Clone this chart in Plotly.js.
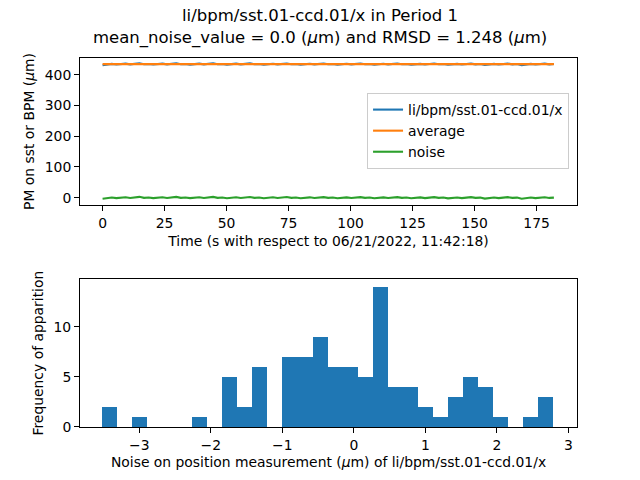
<!DOCTYPE html>
<html>
<head>
<meta charset="utf-8">
<script src="https://cdn.plot.ly/plotly-3.0.1.min.js"></script>
<style>html,body{margin:0;padding:0;background:#fff}#chart{width:640px;height:480px}</style>
</head>
<body>
<div id="chart"></div>
<script>
// Noise values (µm), in time order
var noise = [-3.42,-0.42,0.66,-1.35,-0.02,1.60,-0.77,0.34,2.78,-0.44,
  0.60,-1.40,-0.06,1.55,-0.80,0.32,2.70,-0.46,0.55,-1.48,
  -0.10,1.50,-0.82,0.31,2.62,-0.49,0.50,-1.55,-0.14,1.42,
  -0.85,0.29,2.45,-0.51,0.47,-1.65,-0.17,1.35,-0.88,0.28,
  2.05,-0.54,0.46,-1.68,-0.20,1.20,-0.90,0.24,1.92,-0.56,
  0.44,-1.70,-0.24,1.05,-0.95,0.20,1.87,-0.59,0.43,-1.75,
  -0.27,0.95,-0.98,0.16,1.82,-0.61,0.41,-1.80,-0.31,0.88,
  -1.22,0.11,1.76,-0.64,0.40,-2.15,-0.35,0.82,-1.25,0.07,
  1.72,-0.67,0.38,-3.00,-0.38,0.76,-1.28,0.04,1.68,-0.70,
  0.37,-3.38,-0.40,0.70,-1.30,0.01,1.64,-0.74,0.35];
var timeStart = 0;        // s
var timeStep = 1.857;     // s between samples
var timeEnd = 182;        // s
var averageValue = 434.6; // µm
var histStart = -3.525, histEnd = 2.80, histBinSize = 0.2105;
var topXTicks = [0,25,50,75,100,125,150,175];
var botXTicks = [-3,-2,-1,0,1,2,3];
var botYTicks = [0,5,10];
var topYTicks = [0,100,200,300,400];
var titleLines = ['li/bpm/sst.01-ccd.01/x in Period 1',
  'mean_noise_value = 0.0 (<i>μ</i>m) and RMSD = 1.248 (<i>μ</i>m)'];

var bpm = noise.map(function(n){ return averageValue + n; });

var font = {family:'DejaVu Sans, sans-serif', size:13.9, color:'#000'};
var titleFont = {family:'DejaVu Sans, sans-serif', size:16.5, color:'#000'};
var axisCommon = {showgrid:false, zeroline:false, showline:true, mirror:true,
  linecolor:'#000', linewidth:1, ticks:'outside', ticklen:5, tickwidth:1, tickcolor:'#000',
  tickfont:font, automargin:false};

var traces = [
  {type:'scatter', mode:'lines', name:'li/bpm/sst.01-ccd.01/x', x0:timeStart, dx:timeStep, y:bpm,
   line:{color:'#1f77b4', width:2.1}, xaxis:'x', yaxis:'y'},
  {type:'scatter', mode:'lines', name:'average', x:[timeStart,timeEnd], y:[averageValue,averageValue],
   line:{color:'#ff7f0e', width:2.1}, xaxis:'x', yaxis:'y'},
  {type:'scatter', mode:'lines', name:'noise', x0:timeStart, dx:timeStep, y:noise,
   line:{color:'#2ca02c', width:2.1}, xaxis:'x', yaxis:'y'},
  {type:'histogram', x:noise, xbins:{start:histStart, end:histEnd, size:histBinSize},
   marker:{color:'#1f77b4', line:{width:0}}, showlegend:false, xaxis:'x2', yaxis:'y2'}
];

var layout = {
  width:640, height:480,
  paper_bgcolor:'#fff', plot_bgcolor:'#fff',
  font:font,
  margin:{l:80, r:63, t:58, b:53, pad:0},
  bargap:0,
  annotations:[
    {text:titleLines[0], xref:'paper', yref:'paper', x:0.4832, y:1.1165, xanchor:'center', yanchor:'middle',
     showarrow:false, font:titleFont},
    {text:titleLines[1], xref:'paper', yref:'paper', x:0.4832, y:1.0542, xanchor:'center', yanchor:'middle',
     showarrow:false, font:titleFont}
  ],
  xaxis: Object.assign({}, axisCommon, {domain:[0,1], anchor:'y', range:[-9.1,191.3],
    tickmode:'array', tickvals:topXTicks,
    title:{text:'Time (s with respect to 06/21/2022, 11:42:18)', font:font, standoff:6}}),
  yaxis: Object.assign({}, axisCommon, {domain:[0.6016,1], anchor:'x', range:[-23.8,454.5],
    tickmode:'array', tickvals:topYTicks,
    title:{text:'PM on sst or BPM (<i>μ</i>m)', font:font, standoff:6}}),
  xaxis2: Object.assign({}, axisCommon, {domain:[0,1], anchor:'y2', range:[-3.829,3.12],
    tickmode:'array', tickvals:botXTicks,
    title:{text:'Noise on position measurement (<i>μ</i>m) of li/bpm/sst.01-ccd.01/x', font:font, standoff:5}}),
  yaxis2: Object.assign({}, axisCommon, {domain:[0,0.4003], anchor:'x2', range:[0,14.77],
    tickmode:'array', tickvals:botYTicks,
    title:{text:'Frequency of apparition', font:font, standoff:6}}),
  legend:{x:0.984, xanchor:'right', y:0.905, yanchor:'top', xref:'paper', yref:'paper',
    bgcolor:'rgba(255,255,255,0.8)', bordercolor:'#cccccc', borderwidth:1,
    font:font, tracegroupgap:0, itemwidth:30}
};

Plotly.newPlot('chart', traces, layout, {staticPlot:true, displayModeBar:false});
</script>
</body>
</html>
